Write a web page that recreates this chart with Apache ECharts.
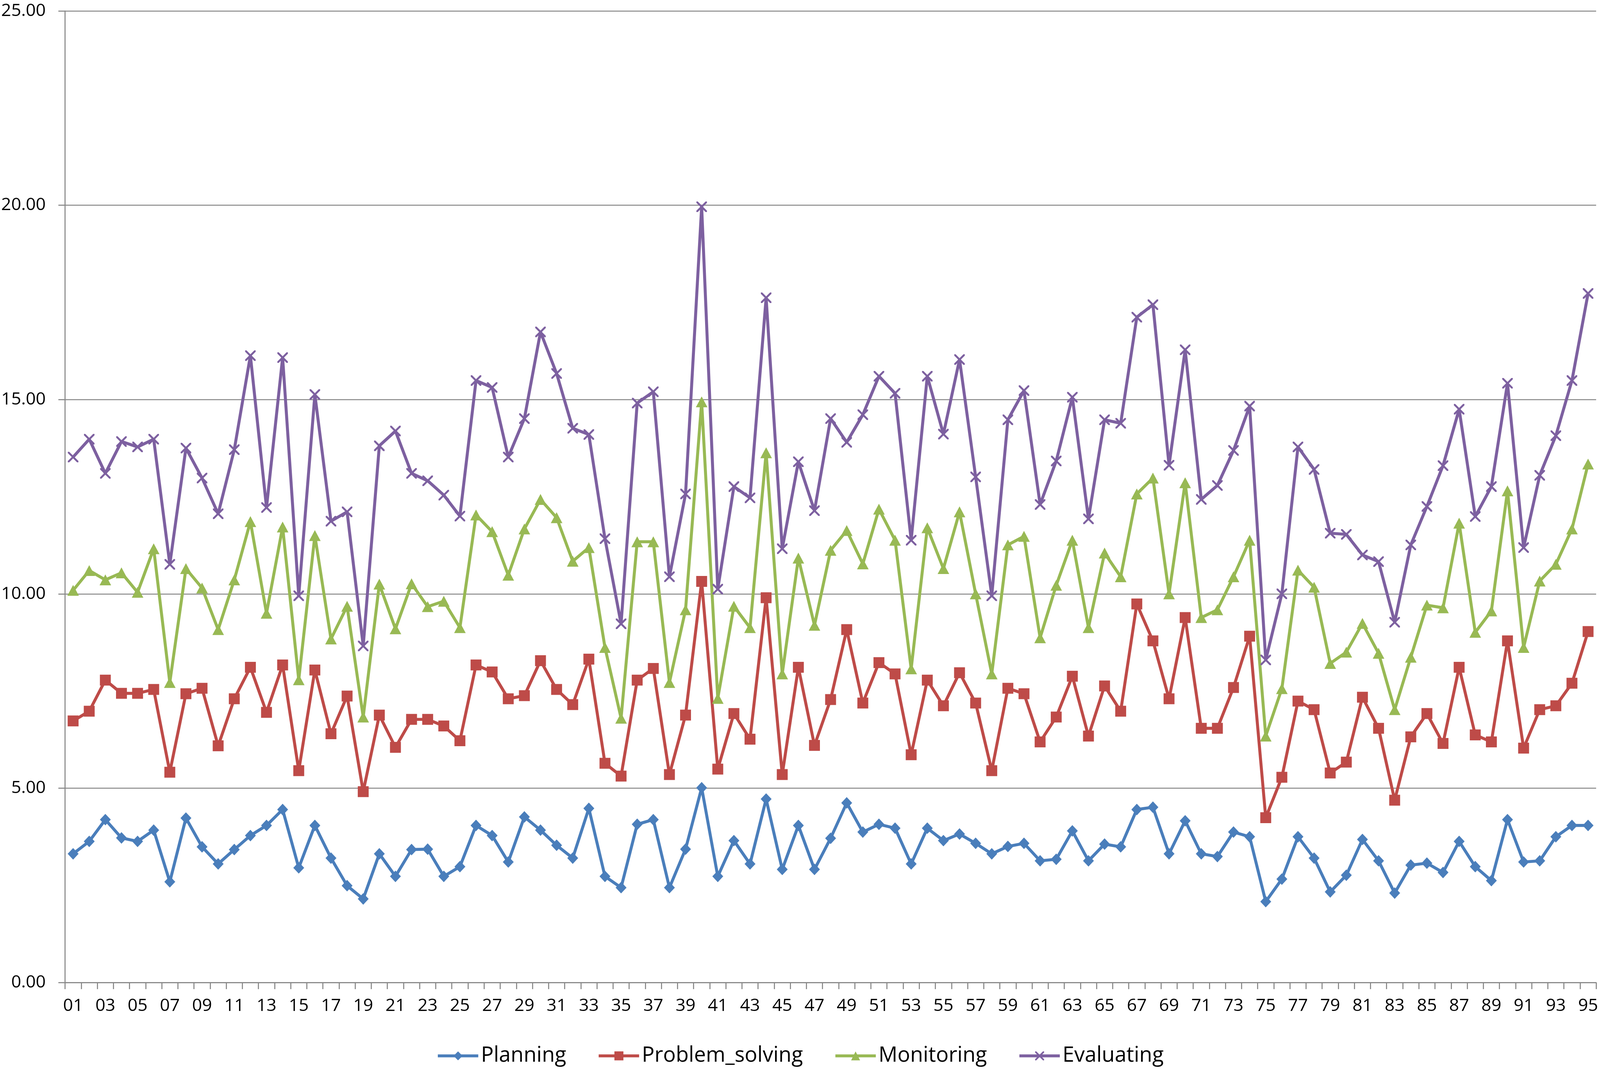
<!DOCTYPE html>
<html>
<head>
<meta charset="utf-8">
<script src="https://cdn.jsdelivr.net/npm/echarts@6/dist/echarts.min.js"></script>
<style>
html,body{margin:0;padding:0;background:#fff;overflow:hidden;}
#chart{width:100vw;height:100vh;}
</style>
</head>
<body>
<div id="chart"></div>
<script>
const categories = ['01','02','03','04','05','06','07','08','09','10','11','12','13','14','15','16','17','18','19','20','21','22','23','24','25','26','27','28','29','30','31','32','33','34','35','36','37','38','39','40','41','42','43','44','45','46','47','48','49','50','51','52','53','54','55','56','57','58','59','60','61','62','63','64','65','66','67','68','69','70','71','72','73','74','75','76','77','78','79','80','81','82','83','84','85','86','87','88','89','90','91','92','93','94','95'];

const planning = [3.31,3.63,4.19,3.72,3.63,3.92,2.59,4.23,3.49,3.05,
3.42,3.78,4.04,4.45,2.95,4.04,3.20,2.49,2.15,3.31,
2.73,3.42,3.43,2.73,2.98,4.04,3.78,3.10,4.26,3.92,
3.53,3.20,4.48,2.73,2.44,4.07,4.19,2.44,3.43,5.01,
2.73,3.65,3.05,4.72,2.91,4.04,2.91,3.71,4.62,3.87,
4.07,3.97,3.05,3.97,3.65,3.82,3.58,3.31,3.50,3.58,
3.13,3.17,3.90,3.13,3.56,3.49,4.45,4.51,3.31,4.16,
3.31,3.24,3.87,3.75,2.08,2.66,3.75,3.20,2.33,2.76,
3.68,3.13,2.30,3.02,3.07,2.83,3.63,2.98,2.62,4.19,
3.10,3.13,3.75,4.04,4.04];

const problemSolving = [6.73,6.98,7.78,7.44,7.44,7.54,5.41,7.43,7.57,6.09,
7.30,8.11,6.95,8.17,5.45,8.04,6.40,7.37,4.91,6.88,
6.05,6.77,6.77,6.60,6.22,8.17,7.99,7.30,7.38,8.28,
7.54,7.15,8.32,5.64,5.31,7.78,8.08,5.35,6.88,10.32,
5.49,6.92,6.26,9.90,5.35,8.11,6.10,7.28,9.08,7.19,
8.23,7.94,5.86,7.78,7.12,7.97,7.19,5.45,7.57,7.43,
6.19,6.83,7.88,6.34,7.63,6.98,9.74,8.79,7.30,9.39,
6.54,6.54,7.59,8.91,4.24,5.28,7.24,7.02,5.39,5.67,
7.34,6.54,4.69,6.32,6.92,6.15,8.11,6.37,6.19,8.79,
6.03,7.02,7.12,7.70,9.03];

const monitoring = [10.09,10.60,10.36,10.54,10.04,11.16,7.72,10.65,10.15,9.08,
10.36,11.86,9.50,11.72,7.79,11.50,8.84,9.68,6.83,10.25,
9.10,10.26,9.67,9.81,9.13,12.03,11.60,10.48,11.67,12.43,
11.96,10.84,11.19,8.62,6.80,11.34,11.34,7.72,9.59,14.94,
7.31,9.68,9.13,13.63,7.94,10.92,9.19,11.12,11.63,10.77,
12.18,11.38,8.07,11.70,10.65,12.11,10.00,7.94,11.26,11.48,
8.87,10.22,11.38,9.13,11.05,10.44,12.57,12.98,10.00,12.86,
9.39,9.59,10.44,11.38,6.34,7.56,10.61,10.17,8.21,8.50,
9.24,8.47,7.02,8.37,9.71,9.64,11.82,9.01,9.56,12.65,
8.62,10.33,10.76,11.67,13.34];

const evaluating = [13.52,13.98,13.10,13.92,13.78,13.98,10.76,13.75,12.98,12.06,
13.71,16.13,12.22,16.08,9.95,15.13,11.87,12.11,8.66,13.81,
14.19,13.10,12.91,12.54,12.00,15.49,15.31,13.52,14.51,16.74,
15.67,14.26,14.10,11.42,9.23,14.91,15.20,10.44,12.57,19.96,
10.12,12.76,12.47,17.62,11.16,13.40,12.14,14.51,13.90,14.61,
15.60,15.16,11.38,15.60,14.11,16.03,13.01,9.95,14.48,15.23,
12.30,13.42,15.06,11.93,14.48,14.39,17.12,17.44,13.31,16.28,
12.43,12.79,13.69,14.83,8.30,10.00,13.78,13.20,11.56,11.53,
11.00,10.83,9.27,11.26,12.25,13.30,14.75,11.99,12.76,15.42,
11.19,13.05,14.07,15.49,17.73];

const seriesNames = ['Planning','Problem_solving','Monitoring','Evaluating'];
const yTicks = {min: 0, max: 25, interval: 5};

const FONT = '"Open Sans", "Noto Sans", sans-serif';
const GRID_COLOR = '#878787';
const xSymbol = 'path://M0,0 L1.3,0 L10,8.7 L10,10 L8.7,10 L0,1.3 Z M8.7,0 L10,0 L10,1.3 L1.3,10 L0,10 L0,8.7 Z';

// layout designed for a 4550x2753 canvas, scaled to the actual viewport
const W = window.innerWidth, H = window.innerHeight;
const sx = W / 4550, sy = H / 2753, s = Math.min(sx, sy);
const fs = (sx + sy) / 2 * 0.98;

function mkSeries(name, data, color, symbol, size) {
  return {
    name: name,
    type: 'line',
    data: data,
    symbol: symbol,
    symbolSize: Array.isArray(size) ? size.map(v => v * s) : size * s,
    showSymbol: true,
    showAllSymbol: true,
    lineStyle: {color: color, width: 8.5 * s},
    itemStyle: {color: color},
    emphasis: {disabled: true},
    z: 2
  };
}

const chart = echarts.init(document.getElementById('chart'), null, {renderer: 'canvas'});
chart.setOption({
  animation: false,
  backgroundColor: '#ffffff',
  color: ['#4A7EBB','#BE4B48','#98B954','#7D60A0'],
  grid: {left: 185 * sx, right: 11 * sx, top: 28 * sy, bottom: 237 * sy, containLabel: false},
  legend: {
    data: seriesNames,
    top: 2672 * sy,
    left: 'center',
    itemWidth: 115 * s,
    itemHeight: 32 * s,
    itemGap: 88 * s,
    lineStyle: {width: 8.5 * s},
    textStyle: {fontFamily: FONT, fontSize: 58 * fs, color: '#000', padding: [0,0,0,2 * s]}
  },
  xAxis: {
    type: 'category',
    data: categories,
    boundaryGap: true,
    axisLine: {show: true, lineStyle: {color: GRID_COLOR, width: 3 * s}},
    axisTick: {show: true, interval: 0, length: 19 * s, lineStyle: {color: GRID_COLOR, width: 3 * s}},
    axisLabel: {interval: 1, fontFamily: FONT, fontSize: 48 * fs, color: '#000', margin: 38 * sy},
    splitLine: {show: false}
  },
  yAxis: {
    type: 'value',
    min: yTicks.min,
    max: yTicks.max,
    interval: yTicks.interval,
    axisLine: {show: true, lineStyle: {color: GRID_COLOR, width: 3 * s}},
    axisTick: {show: true, length: 19 * s, lineStyle: {color: GRID_COLOR, width: 3 * s}},
    axisLabel: {fontFamily: FONT, fontSize: 48 * fs, color: '#000', margin: 55 * sx, formatter: v => v.toFixed(2)},
    splitLine: {show: true, lineStyle: {color: GRID_COLOR, width: 3 * s}}
  },
  series: [
    mkSeries(seriesNames[0], planning, '#4A7EBB', 'diamond', [31, 33]),
    mkSeries(seriesNames[1], problemSolving, '#BE4B48', 'rect', 31),
    mkSeries(seriesNames[2], monitoring, '#98B954', 'triangle', [33, 31]),
    mkSeries(seriesNames[3], evaluating, '#7D60A0', xSymbol, 30)
  ]
});
</script>
</body>
</html>
